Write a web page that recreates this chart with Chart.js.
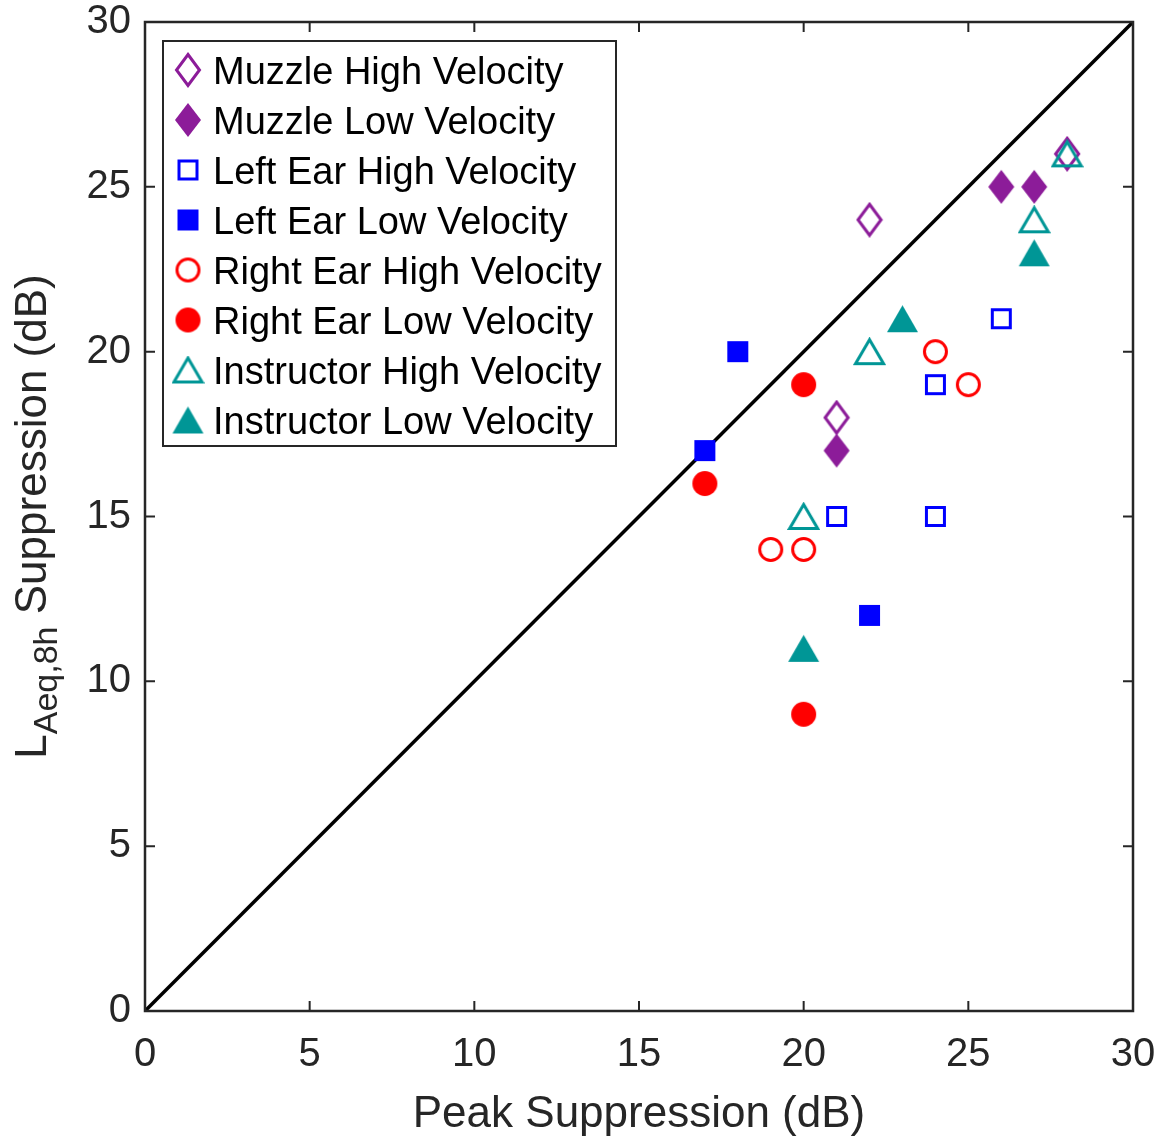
<!DOCTYPE html>
<html>
<head>
<meta charset="utf-8">
<script src="https://cdn.jsdelivr.net/npm/chart.js@4.4.0/dist/chart.umd.min.js"></script>
<style>
  html, body { margin: 0; padding: 0; background: #fff; }
  #wrap { width: 1170px; height: 1142px; position: relative; }
</style>
</head>
<body>
<div id="wrap"><canvas id="suppChart"></canvas></div>
<script>
// values (x = peak suppression, y = LAeq,8h suppression)
const muzzleHighX = [22, 21, 28];
const muzzleHighY = [24, 18, 26];
const muzzleLowX = [26, 27, 21];
const muzzleLowY = [25, 25, 17];
const leftHighX = [26, 24, 21, 24];
const leftHighY = [21, 19, 15, 15];
const leftLowX = [18, 17, 22];
const leftLowY = [20, 17, 12];
const rightHighX = [24, 25, 19, 20];
const rightHighY = [20, 19, 14, 14];
const rightLowX = [20, 17, 20];
const rightLowY = [19, 16, 9];
const instrHighX = [28, 27, 22, 20];
const instrHighY = [26, 24, 20, 15];
const instrLowX = [27, 23, 20];
const instrLowY = [23, 21, 11];
const seriesNames = [
    'Muzzle High Velocity', 'Muzzle Low Velocity',
    'Left Ear High Velocity', 'Left Ear Low Velocity',
    'Right Ear High Velocity', 'Right Ear Low Velocity',
    'Instructor High Velocity', 'Instructor Low Velocity'
];
const axisMin = 0;
const axisMax = 30;
const tickStep = 5;

const PURPLE = '#8c1c99';
const BLUE = '#0000ff';
const RED = '#ff0000';
const TEAL = '#009696';
const AXIS = '#262626';
const FONT = "'Liberation Sans', Arial, sans-serif";

// marker images, drawn roughly like the matlab ones
function makeMarker(shape, color, filled) {
    const c = document.createElement('canvas');
    const size = { diamond: [26, 34], square: [21, 21], circle: [25, 25], triangle: [31, 27] }[shape];
    c.width = size[0] + 2;
    c.height = size[1] + 2;
    const g = c.getContext('2d');
    const lw = 3;
    const inset = filled ? 1 : 1 + lw / 2;
    const w = c.width, h = c.height;
    g.beginPath();
    if (shape === 'diamond') {
        g.moveTo(w / 2, inset);
        g.lineTo(w - inset, h / 2);
        g.lineTo(w / 2, h - inset);
        g.lineTo(inset, h / 2);
        g.closePath();
    } else if (shape === 'square') {
        g.rect(inset, inset, w - 2 * inset, h - 2 * inset);
    } else if (shape === 'circle') {
        g.arc(w / 2, h / 2, w / 2 - inset, 0, Math.PI * 2);
    } else {
        g.moveTo(w / 2, inset);
        g.lineTo(w - inset, h - inset);
        g.lineTo(inset, h - inset);
        g.closePath();
    }
    if (filled) {
        g.fillStyle = color;
        g.fill();
    } else {
        g.strokeStyle = color;
        g.lineWidth = lw;
        g.lineJoin = 'miter';
        g.stroke();
    }
    return c;
}

const markers = [
    makeMarker('diamond', PURPLE, false),
    makeMarker('diamond', PURPLE, true),
    makeMarker('square', BLUE, false),
    makeMarker('square', BLUE, true),
    makeMarker('circle', RED, false),
    makeMarker('circle', RED, true),
    makeMarker('triangle', TEAL, false),
    makeMarker('triangle', TEAL, true)
];
const colors = [PURPLE, PURPLE, BLUE, BLUE, RED, RED, TEAL, TEAL];
const xs = [muzzleHighX, muzzleLowX, leftHighX, leftLowX, rightHighX, rightLowX, instrHighX, instrLowX];
const ys = [muzzleHighY, muzzleLowY, leftHighY, leftLowY, rightHighY, rightLowY, instrHighY, instrLowY];

const datasets = seriesNames.map(function (name, i) {
    return {
        type: 'scatter',
        label: name,
        data: xs[i].map(function (x, j) { return { x: x, y: ys[i][j] }; }),
        pointStyle: markers[i],
        borderColor: colors[i],
        backgroundColor: colors[i],
        order: seriesNames.length - i
    };
});
// 1:1 reference line
datasets.push({
    type: 'line',
    label: 'y = x',
    data: [{ x: axisMin, y: axisMin }, { x: axisMax, y: axisMax }],
    borderColor: '#000',
    borderWidth: 3.5,
    pointRadius: 0,
    order: 100
});

// box, inward ticks, legend and axis titles in matlab style
const matlabAxes = {
    id: 'matlabAxes',
    afterDraw(chart) {
        const ctx = chart.ctx;
        const a = chart.chartArea;
        const sx = chart.scales.x, sy = chart.scales.y;
        ctx.save();

        // legend
        const lx = 163, ly = 41, lw = 453, lh = 405;
        ctx.fillStyle = '#fff';
        ctx.fillRect(lx, ly, lw, lh);
        ctx.strokeStyle = AXIS;
        ctx.lineWidth = 2;
        ctx.strokeRect(lx, ly, lw, lh);
        ctx.font = '38px ' + FONT;
        ctx.fillStyle = '#000';
        ctx.textAlign = 'left';
        ctx.textBaseline = 'alphabetic';
        seriesNames.forEach(function (name, i) {
            const cy = 70 + i * 50;
            const m = markers[i];
            ctx.drawImage(m, 188 - m.width / 2, cy - m.height / 2);
            ctx.fillText(name, 213, cy + 14);
        });

        // ticks pointing inward, all four sides
        ctx.strokeStyle = AXIS;
        ctx.lineWidth = 2;
        ctx.beginPath();
        const tl = 10;
        sx.ticks.forEach(function (t) {
            const px = sx.getPixelForValue(t.value);
            ctx.moveTo(px, a.bottom); ctx.lineTo(px, a.bottom - tl);
            ctx.moveTo(px, a.top); ctx.lineTo(px, a.top + tl);
        });
        sy.ticks.forEach(function (t) {
            const py = sy.getPixelForValue(t.value);
            ctx.moveTo(a.left, py); ctx.lineTo(a.left + tl, py);
            ctx.moveTo(a.right, py); ctx.lineTo(a.right - tl, py);
        });
        ctx.stroke();
        ctx.lineWidth = 2.5;
        ctx.strokeRect(a.left, a.top, a.right - a.left, a.bottom - a.top);

        // x title
        ctx.fillStyle = AXIS;
        ctx.font = '44px ' + FONT;
        ctx.textAlign = 'center';
        ctx.fillText('Peak Suppression (dB)', (a.left + a.right) / 2, 1127);

        // y title with subscript
        const mainFont = '44px ' + FONT;
        const subFont = '34px ' + FONT;
        ctx.font = mainFont;
        const wL = ctx.measureText('L').width;
        const wRest = ctx.measureText(' Suppression (dB)').width;
        ctx.font = subFont;
        const wSub = ctx.measureText('Aeq,8h').width;
        const total = wL + wSub + wRest;
        ctx.translate(46, (a.top + a.bottom) / 2 + total / 2);
        ctx.rotate(-Math.PI / 2);
        ctx.textAlign = 'left';
        ctx.font = mainFont;
        ctx.fillText('L', 0, 0);
        ctx.font = subFont;
        ctx.fillText('Aeq,8h', wL, 11);
        ctx.font = mainFont;
        ctx.fillText(' Suppression (dB)', wL + wSub, 0);
        ctx.restore();
    }
};

const ctx = document.getElementById('suppChart').getContext('2d');
new Chart(ctx, {
    type: 'scatter',
    data: { datasets: datasets },
    options: {
        responsive: true,
        maintainAspectRatio: false,
        animation: false,
        layout: { padding: { top: 22, right: 37, left: 0, bottom: 0 } },
        scales: {
            x: {
                type: 'linear',
                min: axisMin,
                max: axisMax,
                grid: { display: false, drawTicks: false },
                border: { display: false },
                ticks: {
                    stepSize: tickStep,
                    color: AXIS,
                    font: { family: FONT, size: 40 },
                    padding: 20,
                    maxRotation: 0
                },
                afterFit: function (s) {
                    s.height = 131;
                    s.paddingLeft = 0;
                    s.paddingRight = 0;
                }
            },
            y: {
                type: 'linear',
                min: axisMin,
                max: axisMax,
                grid: { display: false, drawTicks: false },
                border: { display: false },
                ticks: {
                    stepSize: tickStep,
                    color: AXIS,
                    font: { family: FONT, size: 40 },
                    padding: 14
                },
                afterFit: function (s) {
                    s.width = 145;
                    s.paddingTop = 0;
                    s.paddingBottom = 0;
                }
            }
        },
        plugins: {
            legend: { display: false },
            tooltip: { enabled: false }
        }
    },
    plugins: [matlabAxes]
});
</script>
</body>
</html>
